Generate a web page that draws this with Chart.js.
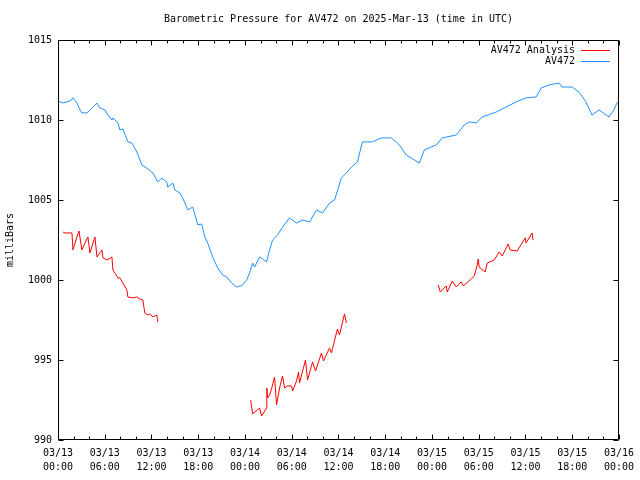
<!DOCTYPE html>
<html>
<head>
<meta charset="utf-8">
<script src="https://cdn.jsdelivr.net/npm/chart.js@4/dist/chart.umd.min.js"></script>
<style>
html,body{margin:0;padding:0;background:#fff;}
#wrap{width:640px;height:480px;}
</style>
</head>
<body>
<div id="wrap"><canvas id="c" width="640" height="480"></canvas></div>
<script>
// ---- data (hours since 03/13 00:00 UTC, millibars) ----
const chartTitle = 'Barometric Pressure for AV472 on 2025-Mar-13 (time in UTC)';
const yTitle = 'milliBars';
const seriesNames = ['AV472 Analysis', 'AV472'];

const xTickLabels = [
  ['03/13','00:00'],['03/13','06:00'],['03/13','12:00'],['03/13','18:00'],
  ['03/14','00:00'],['03/14','06:00'],['03/14','12:00'],['03/14','18:00'],
  ['03/15','00:00'],['03/15','06:00'],['03/15','12:00'],['03/15','18:00'],
  ['03/16','00:00']
];
const yTickLabels = ['990', '995', '1000', '1005', '1010', '1015'];

const obsHours = [0,0.64,1.54,1.92,2.43,2.82,3.07,3.72,4.10,4.48,5.00,5.38,6.02,6.41,6.92,7.05,7.69,7.94,8.33,8.97,
  9.48,10.12,10.76,11.40,12.17,12.81,13.32,13.96,14.09,14.73,14.99,15.63,16.01,16.65,17.29,17.94,18.45,18.83,19.22,19.86,
  20.50,21.14,21.65,22.29,22.93,23.32,23.57,24.21,24.60,24.98,25.24,25.88,26.77,27.16,27.54,28.18,28.82,29.72,30.62,31.39,
  32.28,33.18,33.95,34.85,35.49,36.38,37.02,37.66,38.43,39.07,40.35,41.51,42.79,43.43,43.81,44.71,45.74,46.38,47.02,48.55,
  49.32,51.12,52.14,52.78,53.68,54.45,56.24,57.52,58.80,60.08,61.37,62.01,63.03,64.31,64.70,65.98,66.87,67.77,68.54,69.44,
  70.72,71.36,71.74,72.0];
const obsValues = [1011.19,1011.06,1011.19,1011.38,1011.06,1010.63,1010.44,1010.44,1010.63,1010.81,1011.06,1010.75,1010.63,1010.31,1010.0,1010.13,1009.81,1009.38,1009.44,1008.63,
  1008.56,1008.0,1007.19,1007.0,1006.69,1006.13,1006.38,1006.13,1005.81,1006.06,1005.63,1005.44,1005.13,1004.38,1004.56,1003.44,1003.5,1002.69,1002.31,1001.44,
  1000.75,1000.31,1000.19,999.81,999.56,999.63,999.63,1000.0,1000.44,1001.06,1000.81,1001.44,1001.13,1001.88,1002.5,1002.81,1003.31,1003.88,1003.56,1003.75,
  1003.63,1004.38,1004.19,1004.81,1005.0,1006.38,1006.69,1007.06,1007.38,1008.63,1008.63,1008.88,1008.88,1008.63,1008.44,1007.81,1007.5,1007.31,1008.13,1008.44,
  1008.88,1009.06,1009.69,1009.88,1009.81,1010.19,1010.5,1010.81,1011.13,1011.38,1011.44,1012.0,1012.19,1012.31,1012.06,1012.06,1011.75,1011.13,1010.31,1010.63,
  1010.19,1010.63,1011.06,1011.13];

const anaHours = [0.64,0.90,1.79,1.92,2.43,2.69,3.07,3.46,3.84,4.10,4.74,5.00,5.64,5.77,6.28,6.92,7.05,7.69,7.94,8.33,8.84,8.97,9.61,10.12,10.51,10.89,11.15,11.53,11.79,12.17,12.68,12.81,
  18.0,
  24.73,24.85,24.98,25.88,26.13,26.77,26.80,26.90,27.16,27.41,27.80,28.05,28.44,28.82,29.08,29.46,29.98,30.11,30.62,30.87,31.00,31.77,32.03,32.67,33.05,33.82,34.08,34.85,35.10,35.74,35.87,36.13,36.77,37.02,
  43.0,
  48.81,49.07,49.83,49.96,50.60,51.12,51.76,52.01,53.04,53.42,53.81,53.93,54.06,54.83,55.09,55.98,56.63,57.01,57.78,58.03,58.93,59.96,60.08,60.85,60.98];
const anaValues = [1003.0,1002.94,1002.94,1001.88,1002.69,1003.06,1001.88,1002.31,1002.69,1001.69,1002.69,1001.44,1001.88,1001.38,1001.25,1001.44,1000.63,1000.13,1000.13,999.81,999.38,998.94,998.88,998.94,998.81,998.75,997.94,997.81,997.88,997.69,997.81,997.38,
  null,
  992.5,992.06,991.63,992.0,991.5,992.0,993.25,992.63,992.81,993.19,993.94,992.19,993.25,994.0,993.25,993.38,993.38,993.06,993.69,994.25,993.56,995.0,993.75,994.88,994.31,995.44,994.94,995.75,995.44,996.69,996.94,996.56,997.88,997.31,
  null,
  999.69,999.25,999.63,999.25,999.94,999.56,999.88,999.63,1000.06,1000.25,1000.94,1001.31,1000.81,1000.5,1001.06,1001.25,1001.75,1001.5,1002.25,1001.88,1001.81,1002.63,1002.31,1002.94,1002.5];

const colors = ['#ff0000', '#1e90ff'];

// ---- build ----
const FONT = 'DejaVu Sans Mono';
const toPts = (xs, ys) => xs.map((x, i) => ({x: x, y: ys[i]}));

const framePlugin = {
  id: 'frame',
  afterDatasetsDraw(chart) {
    const ctx = chart.ctx;
    const a = chart.chartArea;
    const xs = chart.scales.x, ys = chart.scales.y;
    const L = Math.round(a.left) + 0.5, R = Math.round(a.right) - 0.5;
    const T = Math.round(a.top) + 0.5, B = Math.round(a.bottom) - 0.5;
    ctx.save();
    ctx.strokeStyle = '#000';
    ctx.lineWidth = 1;
    ctx.beginPath();
    ctx.rect(L, T, R - L, B - T);
    for (let h = 0; h <= 72; h += 2) {
      const px = Math.round(xs.getPixelForValue(h)) + 0.5;
      const len = (h % 6 === 0) ? 5 : 3;
      ctx.moveTo(px, B); ctx.lineTo(px, B - len);
      ctx.moveTo(px, T); ctx.lineTo(px, T + len);
    }
    for (let v = 990; v <= 1015; v += 5) {
      const py = Math.round(ys.getPixelForValue(v)) + 0.5;
      ctx.moveTo(L, py); ctx.lineTo(L + 5, py);
      ctx.moveTo(R, py); ctx.lineTo(R - 5, py);
    }
    ctx.stroke();
    ctx.font = '10px "' + FONT + '"';
    ctx.textAlign = 'right';
    ctx.textBaseline = 'middle';
    ctx.fillStyle = '#000';
    const rows = [50, 61];
    seriesNames.forEach((n, i) => {
      ctx.fillText(n, 575, rows[i]);
      ctx.beginPath();
      ctx.strokeStyle = colors[i];
      ctx.moveTo(581, rows[i] + 0.5);
      ctx.lineTo(610, rows[i] + 0.5);
      ctx.stroke();
    });
    ctx.restore();
  }
};

new Chart(document.getElementById('c'), {
  type: 'line',
  data: {
    datasets: [
      {label: seriesNames[0], data: toPts(anaHours, anaValues), borderColor: colors[0], borderWidth: 1, pointRadius: 0, tension: 0, spanGaps: false},
      {label: seriesNames[1], data: toPts(obsHours, obsValues), borderColor: colors[1], borderWidth: 1, pointRadius: 0, tension: 0}
    ]
  },
  options: {
    responsive: false,
    animation: false,
    events: [],
    layout: {padding: {left: 0, right: 18, top: 0, bottom: 0}},
    plugins: {
      legend: {display: false},
      tooltip: {enabled: false},
      title: {
        display: true, text: chartTitle, color: '#000', fullSize: false,
        font: {family: FONT, size: 10, weight: 'normal', lineHeight: 1.2},
        padding: {top: 13, bottom: 15}
      }
    },
    scales: {
      x: {
        type: 'linear', min: 0, max: 72,
        afterBuildTicks: (s) => { s.ticks = xTickLabels.map((_, i) => ({value: i * 6})); },
        afterFit: (s) => { s.height = 40; },
        grid: {display: false, drawTicks: false},
        border: {display: false},
        ticks: {
          autoSkip: false, maxRotation: 0, minRotation: 0, padding: 6, color: '#000',
          font: {family: FONT, size: 10, lineHeight: 1.4},
          callback: (v) => xTickLabels[Math.round(v / 6)]
        }
      },
      y: {
        min: 990, max: 1015,
        afterBuildTicks: (s) => { s.ticks = yTickLabels.map((_, i) => ({value: 990 + i * 5})); },
        afterFit: (s) => { s.width = 58; },
        grid: {display: false, drawTicks: false},
        border: {display: false},
        ticks: {padding: 6, color: '#000', font: {family: FONT, size: 10},
          callback: (v) => yTickLabels[Math.round((v - 990) / 5)]},
        title: {display: true, text: yTitle, color: '#000', font: {family: FONT, size: 10}, padding: {top: 4, bottom: 0}}
      }
    }
  },
  plugins: [framePlugin]
});
</script>
</body>
</html>
